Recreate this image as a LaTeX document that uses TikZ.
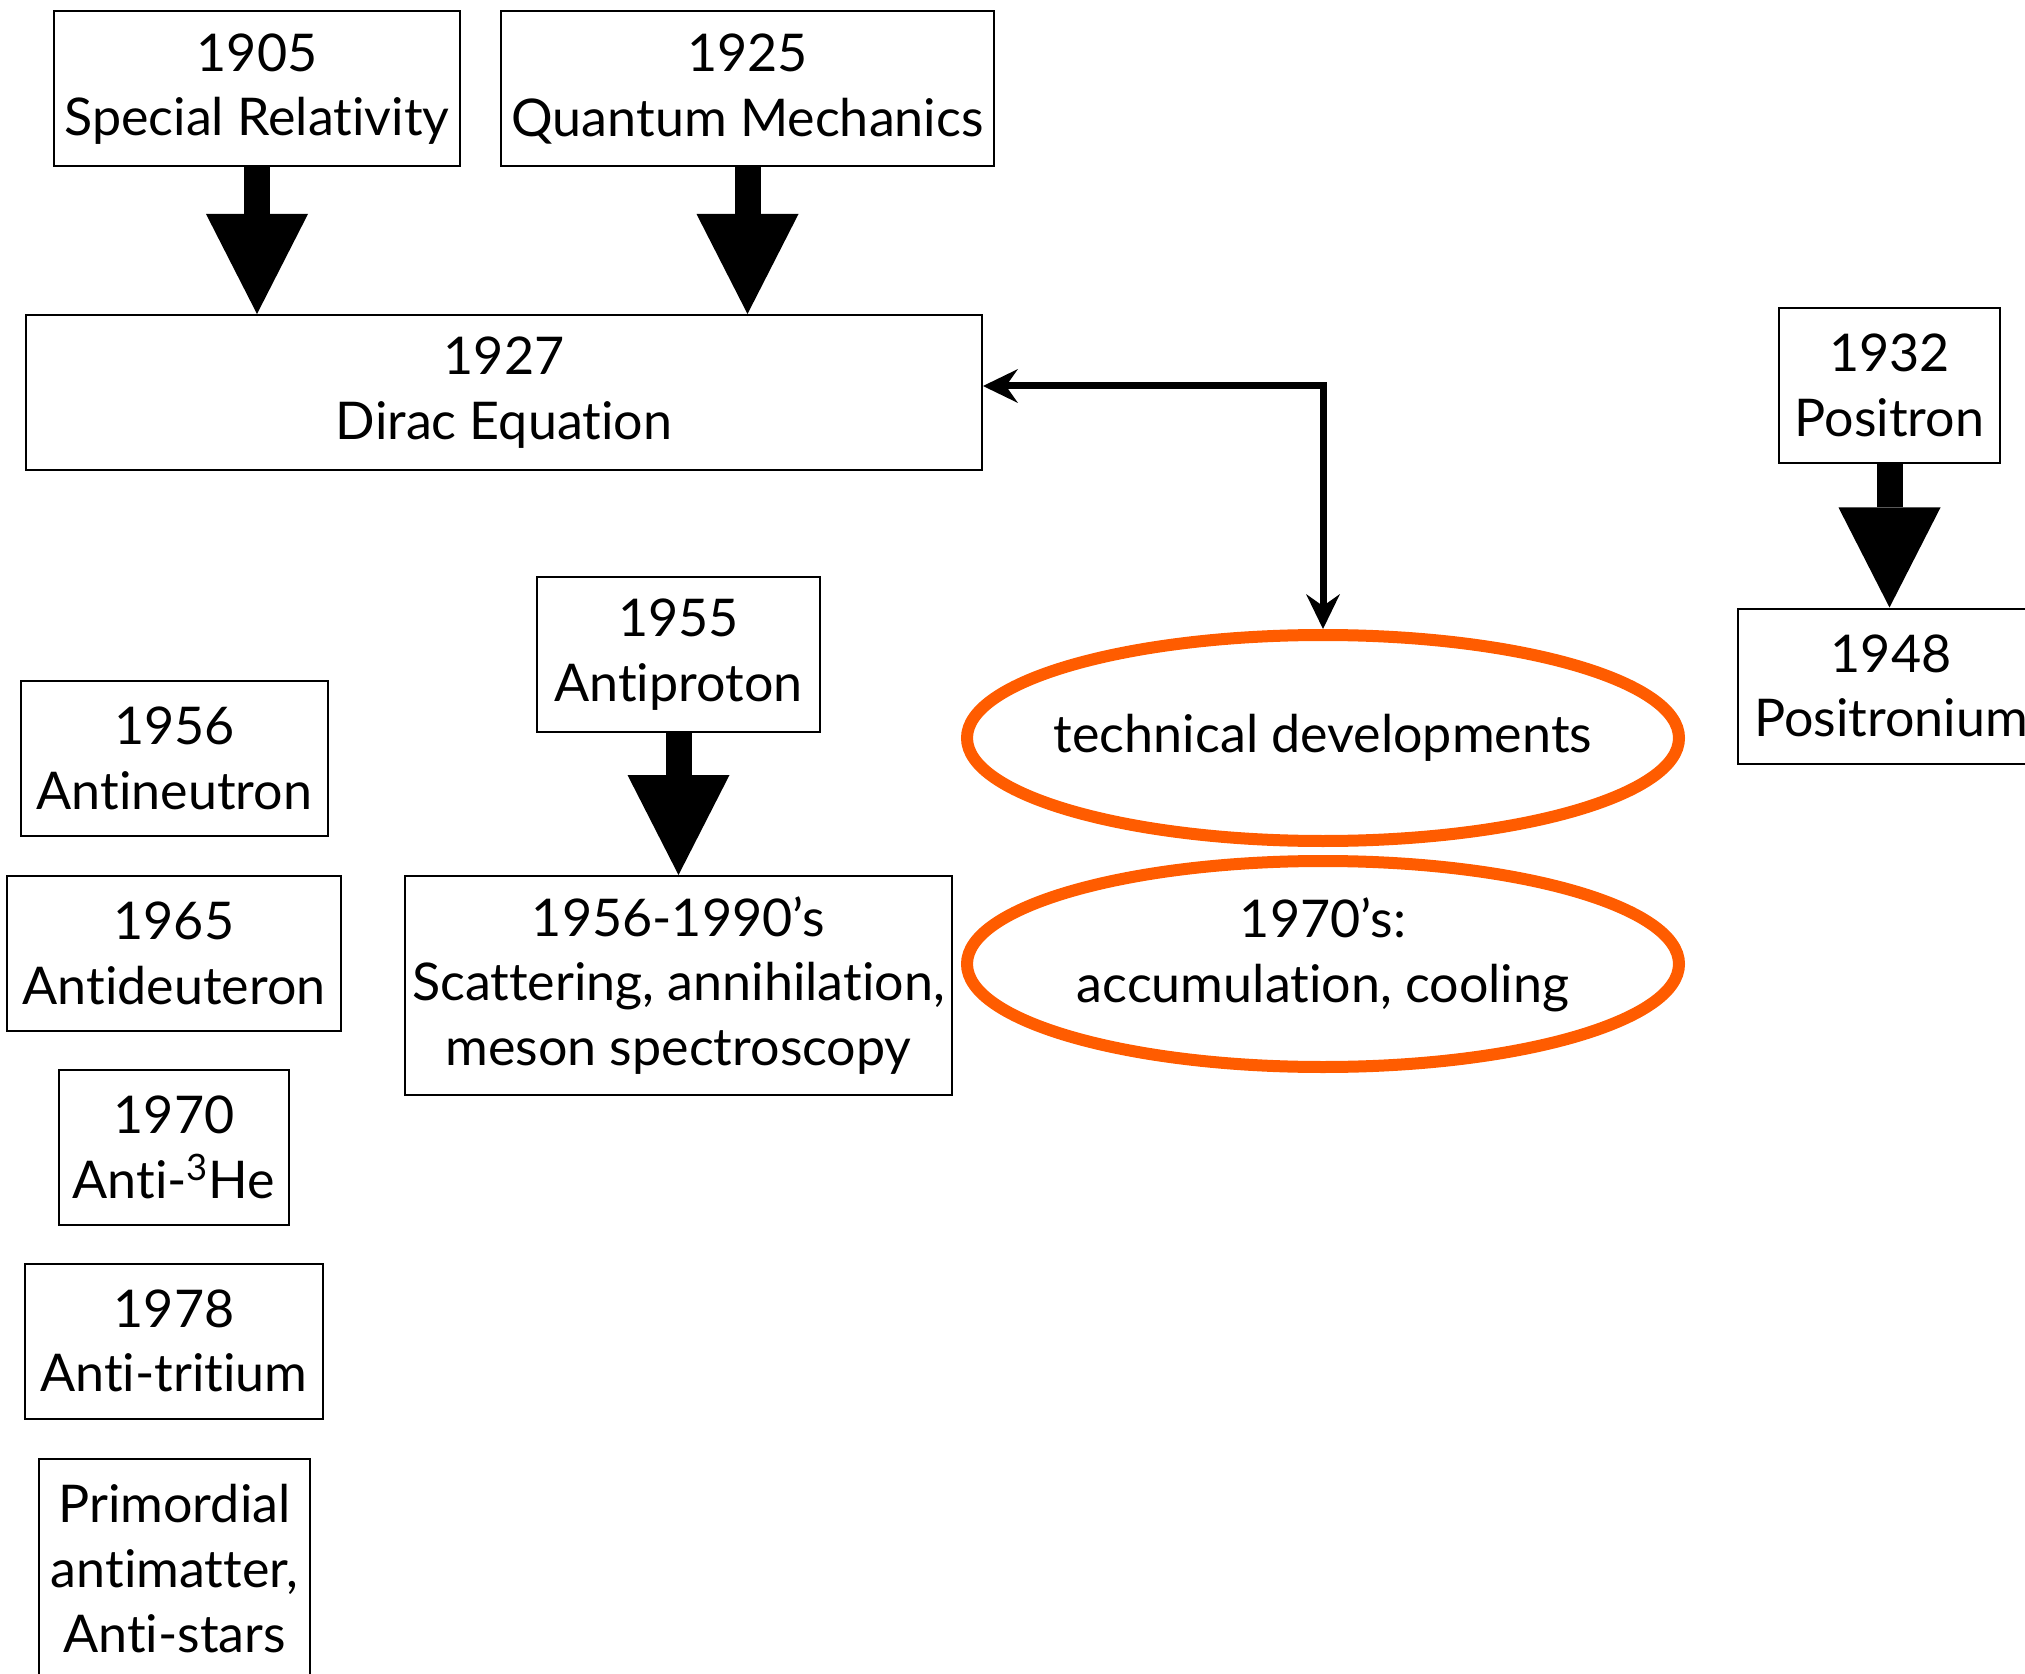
\documentclass[tikz,border=0pt]{standalone}
\usepackage{fontspec}
\setmainfont{Lato}[Ligatures=NoCommon]
\usetikzlibrary{arrows.meta,shapes.geometric}
\definecolor{hotorange}{RGB}{255,92,0}
\begin{document}
\begin{tikzpicture}[x=0.5pt,y=-0.5pt,
  every node/.style={font=\fontsize{26}{32.3}\selectfont, align=center, inner sep=0pt},
  box/.style={draw, line width=1pt, minimum height=77.5pt},
  tallbox/.style={box, minimum height=109.5pt},
  oval/.style={ellipse, draw=hotorange, line width=6pt,
    minimum width=356pt, minimum height=103pt},
  blockarrow/.style={line width=13pt,
    -{Triangle[width=51pt,length=50pt,line width=0pt]}},
  thinarrow/.style={line width=3.5pt,
    {Stealth[length=17.5pt,width=17pt,inset=6pt,line width=0pt]}-{Stealth[length=17.5pt,width=17pt,inset=6pt,line width=0pt]}}
]
\path[use as bounding box] (0,0) rectangle (2025,1674);
\clip (0,0) rectangle (2025,1674);

% theory boxes
\node[box, minimum width=203pt] (sr) at (257,89) {1905\\Special Relativity};
\node[box, minimum width=246.5pt] (qm) at (747.5,89) {1925\\Quantum Mechanics};
\node[box, minimum width=478pt] (dirac) at (504,392.5) {1927\\Dirac Equation};

% positron branch
\node[box, minimum width=110.5pt] (pos) at (1889.5,385.5) {1932\\Positron};
\node[box, minimum width=153pt] (posium) at (1891,686) {1948\\Positronium};

% antiproton branch
\node[box, minimum width=141.5pt] (pbar) at (678.5,654.5) {1955\\Antiproton};
\node[tallbox, minimum width=273.5pt] (scat) at (678.5,985.5)
  {1956-1990’s\\Scattering, annihilation,\\meson spectroscopy};

% discoveries column
\node[box, minimum width=153.5pt] (nbar) at (174.5,758.5) {1956\\Antineutron};
\node[box, minimum width=167pt] (dbar) at (174,953.5) {1965\\Antideuteron};
\node[box, minimum width=115pt] (he) at (174,1147.5) {1970\\Anti-\textsuperscript{3}He};
\node[box, minimum width=149pt] (tbar) at (174,1341) {1978\\Anti-tritium};
\node[tallbox, minimum width=135.5pt] (prim) at (174.5,1568.5)
  {Primordial\\antimatter,\\Anti-stars};

% technical developments (fixed-size ellipses, text placed as centre labels)
\node[oval, label={center:technical developments}] (tech) at (1323,738) {};
\node[oval, label={[yshift=4.5pt]center:1970’s:\\accumulation, cooling}] (accum) at (1323,964) {};

% connectors
\draw[blockarrow] (sr.south) -- (sr.south |- dirac.north);
\draw[blockarrow] (qm.south) -- (qm.south |- dirac.north);
\draw[blockarrow] (pos.south) -- (pos.south |- posium.north);
\draw[blockarrow] (pbar.south) -- (pbar.south |- scat.north);
\draw[thinarrow] ([yshift=3.25pt]dirac.east) -| (tech.north);
\end{tikzpicture}
\end{document}
